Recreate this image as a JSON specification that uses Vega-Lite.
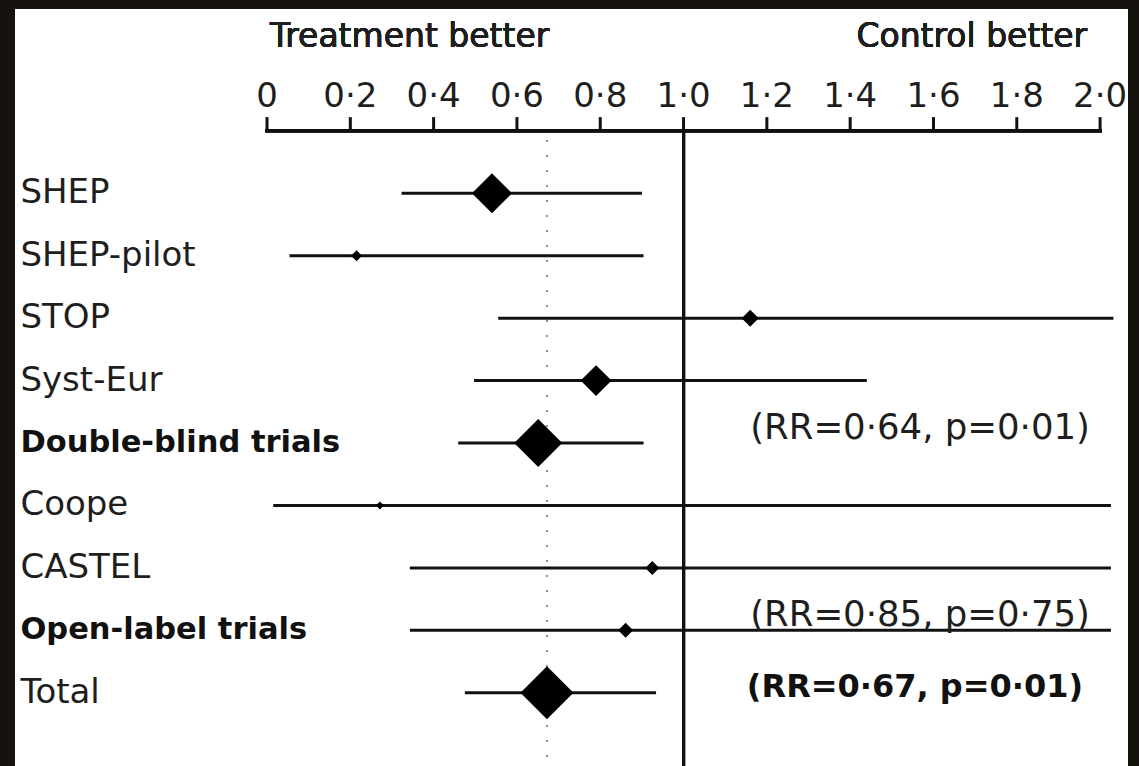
{
  "$schema": "https://vega.github.io/schema/vega-lite/v6.json",
  "width": 1113,
  "height": 757,
  "autosize": "none",
  "padding": {"left": 15, "top": 9, "right": 11, "bottom": 0},
  "background": "#16120d",
  "view": {"fill": "white", "stroke": null},
  "datasets": {
    "rows": [
      {"study": "SHEP", "row": 1, "kind": "trial", "est": 0.54, "lo": 0.323, "hi": 0.9, "weight": 57},
      {"study": "SHEP-pilot", "row": 2, "kind": "trial", "est": 0.215, "lo": 0.054, "hi": 0.904, "weight": 4.3},
      {"study": "STOP", "row": 3, "kind": "trial", "est": 1.16, "lo": 0.555, "hi": 2.032, "weight": 10.3},
      {"study": "Syst-Eur", "row": 4, "kind": "trial", "est": 0.79, "lo": 0.497, "hi": 1.44, "weight": 34},
      {"study": "Double-blind trials", "row": 5, "kind": "subtotal", "est": 0.651, "lo": 0.459, "hi": 0.904, "weight": 82, "note": "(RR=0·64, p=0·01)"},
      {"study": "Coope", "row": 6, "kind": "trial", "est": 0.271, "lo": 0.015, "hi": 2.026, "weight": 2.3},
      {"study": "CASTEL", "row": 7, "kind": "trial", "est": 0.925, "lo": 0.343, "hi": 2.026, "weight": 7},
      {"study": "Open-label trials", "row": 8, "kind": "subtotal", "est": 0.861, "lo": 0.343, "hi": 2.026, "weight": 8, "note": "(RR=0·85, p=0·75)"},
      {"study": "Total", "row": 9, "kind": "total", "est": 0.672, "lo": 0.475, "hi": 0.934, "weight": 100, "note": "(RR=0·67, p=0·01)"}
    ],
    "ticks": [
      {"v": 0, "label": "0"},
      {"v": 0.2, "label": "0·2"},
      {"v": 0.4, "label": "0·4"},
      {"v": 0.6, "label": "0·6"},
      {"v": 0.8, "label": "0·8"},
      {"v": 1.0, "label": "1·0"},
      {"v": 1.2, "label": "1·2"},
      {"v": 1.4, "label": "1·4"},
      {"v": 1.6, "label": "1·6"},
      {"v": 1.8, "label": "1·8"},
      {"v": 2.0, "label": "2·0"}
    ]
  },
  "data": {"name": "rows"},
  "layer": [
    {
      "transform": [{"filter": "datum.kind == 'total'"}],
      "mark": {"type": "rule", "color": "#8c8c8c", "strokeWidth": 2, "strokeDash": [2, 13]},
      "encoding": {
        "x": {"field": "est", "type": "quantitative", "scale": {"domain": [-0.605, 2.067], "nice": false, "zero": false}, "axis": null},
        "y": {"datum": 0.146, "type": "quantitative", "scale": {"domain": [-1.952, 10.173], "nice": false, "zero": false, "reverse": true}, "axis": null},
        "y2": {"datum": 10.173}
      }
    },
    {
      "mark": {"type": "rule", "color": "#111", "strokeWidth": 3},
      "encoding": {
        "x": {"datum": 1, "type": "quantitative"},
        "y": {"datum": 0, "type": "quantitative"},
        "y2": {"datum": 10.173}
      }
    },
    {
      "mark": {"type": "rule", "color": "#111", "strokeWidth": 3, "strokeCap": "square"},
      "encoding": {
        "x": {"datum": 0, "type": "quantitative"},
        "x2": {"datum": 2},
        "y": {"datum": 0, "type": "quantitative"}
      }
    },
    {
      "data": {"name": "ticks"},
      "mark": {"type": "rule", "color": "#111", "strokeWidth": 3},
      "encoding": {
        "x": {"field": "v", "type": "quantitative"},
        "y": {"datum": 0, "type": "quantitative"},
        "y2": {"datum": -0.22}
      }
    },
    {
      "data": {"name": "ticks"},
      "mark": {"type": "text", "font": "DejaVu Sans", "fontSize": 34, "color": "#1e1e1e", "align": "center", "baseline": "middle"},
      "encoding": {
        "x": {"field": "v", "type": "quantitative"},
        "y": {"datum": -0.55, "type": "quantitative"},
        "text": {"field": "label"}
      }
    },
    {
      "mark": {"type": "text", "font": "DejaVu Sans", "fontSize": 33, "color": "#1e1e1e", "align": "left", "baseline": "middle", "text": "Treatment better"},
      "encoding": {
        "x": {"datum": 0.007, "type": "quantitative"},
        "y": {"datum": -1.51, "type": "quantitative"}
      }
    },
    {
      "mark": {"type": "text", "font": "DejaVu Sans", "fontSize": 33, "color": "#1e1e1e", "align": "right", "baseline": "middle", "text": "Control better"},
      "encoding": {
        "x": {"datum": 1.969, "type": "quantitative"},
        "y": {"datum": -1.51, "type": "quantitative"}
      }
    },
    {
      "mark": {"type": "rule", "color": "#111", "strokeWidth": 3},
      "encoding": {
        "x": {"field": "lo", "type": "quantitative"},
        "x2": {"field": "hi"},
        "y": {"field": "row", "type": "quantitative"}
      }
    },
    {
      "mark": {"type": "point", "shape": "diamond", "filled": true, "color": "#000", "opacity": 1, "strokeWidth": 0},
      "encoding": {
        "x": {"field": "est", "type": "quantitative"},
        "y": {"field": "row", "type": "quantitative"},
        "size": {"field": "weight", "type": "quantitative", "scale": {"domain": [0, 100], "range": [0, 2809], "zero": true}, "legend": null}
      }
    },
    {
      "transform": [{"filter": "datum.kind != 'subtotal'"}],
      "mark": {"type": "text", "font": "DejaVu Sans", "fontSize": 34, "color": "#1e1e1e", "align": "left", "baseline": "middle"},
      "encoding": {
        "x": {"datum": -0.592, "type": "quantitative"},
        "y": {"field": "row", "type": "quantitative"},
        "text": {"field": "study"}
      }
    },
    {
      "transform": [{"filter": "datum.kind == 'subtotal'"}],
      "mark": {"type": "text", "font": "DejaVu Sans", "fontSize": 30.5, "fontWeight": "bold", "color": "#111", "align": "left", "baseline": "middle"},
      "encoding": {
        "x": {"datum": -0.592, "type": "quantitative"},
        "y": {"field": "row", "type": "quantitative"},
        "text": {"field": "study"}
      }
    },
    {
      "transform": [{"filter": "datum.kind == 'subtotal'"}],
      "mark": {"type": "text", "font": "DejaVu Sans", "fontSize": 35.5, "color": "#1e1e1e", "align": "left", "baseline": "middle", "dy": -15},
      "encoding": {
        "x": {"datum": 1.16, "type": "quantitative"},
        "y": {"field": "row", "type": "quantitative"},
        "text": {"field": "note"}
      }
    },
    {
      "transform": [{"filter": "datum.kind == 'total'"}],
      "mark": {"type": "text", "font": "DejaVu Sans", "fontSize": 32, "fontWeight": "bold", "color": "#111", "align": "left", "baseline": "middle", "dy": -6},
      "encoding": {
        "x": {"datum": 1.152, "type": "quantitative"},
        "y": {"field": "row", "type": "quantitative"},
        "text": {"field": "note"}
      }
    }
  ]
}
